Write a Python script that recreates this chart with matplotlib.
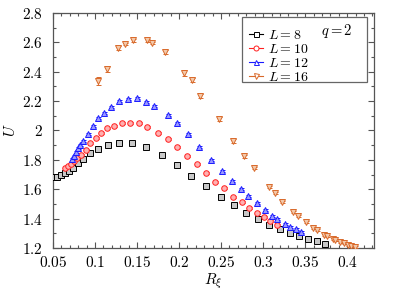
import matplotlib
matplotlib.use("Agg")
import matplotlib.pyplot as plt
from matplotlib.ticker import MultipleLocator, FuncFormatter
from matplotlib.lines import Line2D
from matplotlib.patches import Rectangle
import numpy as np

plt.rcParams['mathtext.fontset'] = 'cm'
plt.rcParams['font.family'] = 'serif'
plt.rcParams['font.serif'] = ['DejaVu Serif']

# L = 8
x8 = [0.0512, 0.0548, 0.0595, 0.0643, 0.069, 0.0738, 0.0797, 0.0856, 0.094, 0.1035,
      0.1153, 0.1284, 0.1439, 0.1605, 0.1795, 0.1973, 0.214, 0.2318, 0.2496, 0.265,
      0.2793, 0.2935, 0.3066, 0.3197, 0.3316, 0.3422, 0.353, 0.3636, 0.3731]
y8 = [1.683, 1.683, 1.697, 1.710, 1.724, 1.745, 1.779, 1.806, 1.847, 1.874,
      1.901, 1.915, 1.915, 1.888, 1.833, 1.765, 1.690, 1.622, 1.547, 1.493,
      1.438, 1.397, 1.356, 1.329, 1.302, 1.281, 1.261, 1.247, 1.227]
# L = 10
x10 = [0.0643, 0.0678, 0.0714, 0.075, 0.0785, 0.0833, 0.0892, 0.094, 0.1011, 0.107,
       0.1141, 0.1225, 0.132, 0.1415, 0.1522, 0.1617, 0.1747, 0.1866, 0.1973, 0.2092,
       0.2211, 0.2318, 0.2425, 0.2531, 0.2638, 0.2745, 0.2828, 0.2923, 0.3007, 0.3078, 0.3161]
y10 = [1.744, 1.758, 1.771, 1.792, 1.812, 1.833, 1.867, 1.915, 1.949, 1.983,
       2.017, 2.031, 2.051, 2.051, 2.051, 2.024, 1.983, 1.942, 1.888, 1.826,
       1.772, 1.711, 1.649, 1.608, 1.547, 1.513, 1.472, 1.438, 1.411, 1.384, 1.356]
# L = 12
x12 = [0.0726, 0.0749, 0.0773, 0.0797, 0.0821, 0.0856, 0.0916, 0.0975, 0.1035, 0.1106,
       0.1189, 0.1284, 0.1391, 0.1498, 0.1605, 0.17, 0.1866, 0.1973, 0.2104, 0.2235,
       0.2377, 0.2508, 0.2627, 0.2733, 0.2816, 0.2923, 0.3019, 0.31, 0.3161, 0.3256,
       0.3316, 0.3387, 0.3446]
y12 = [1.806, 1.826, 1.853, 1.881, 1.901, 1.928, 1.976, 2.031, 2.085, 2.119,
       2.160, 2.201, 2.214, 2.221, 2.194, 2.167, 2.105, 2.051, 1.976, 1.888,
       1.799, 1.724, 1.656, 1.601, 1.554, 1.506, 1.458, 1.418, 1.397, 1.363,
       1.343, 1.329, 1.309]
# L = 16
x16 = [0.1035, 0.114, 0.127, 0.1355, 0.145, 0.1617, 0.1676, 0.183, 0.2056, 0.215,
       0.2246, 0.247, 0.264, 0.277, 0.289, 0.3066, 0.3137, 0.323, 0.335, 0.342,
       0.3506, 0.359, 0.3636, 0.373, 0.3755, 0.3826, 0.386, 0.391, 0.3957, 0.4005,
       0.405, 0.4088]
y16 = [2.337, 2.419, 2.562, 2.589, 2.616, 2.616, 2.596, 2.534, 2.391, 2.344,
       2.235, 2.078, 1.928, 1.826, 1.745, 1.615, 1.574, 1.513, 1.445, 1.418,
       1.377, 1.336, 1.322, 1.288, 1.281, 1.261, 1.254, 1.240, 1.234, 1.220,
       1.213, 1.207]
e16 = [0.025, 0.02, 0.012, 0.01, 0.01, 0.01, 0.01, 0.012, 0.018, 0.015,
       0.012, 0.015, 0.012, 0.01, 0.008, 0.008, 0.008, 0.006, 0.006, 0.006,
       0.005, 0.005, 0.005, 0.004, 0.004, 0.004, 0.004, 0.004, 0.004, 0.004,
       0.004, 0.004]

series = [
    (x8, y8, None, 's', '#000000', '#c8c8c8', '$L = 8$'),
    (x10, y10, None, 'o', '#ff2020', '#ffb0b0', '$L = 10$'),
    (x12, y12, None, '^', '#1a1aff', '#9a9aff', '$L = 12$'),
    (x16, y16, e16, 'v', '#d9692a', '#f3c9aa', '$L = 16$'),
]

fig = plt.figure(figsize=(3.95, 2.9), dpi=100)
ax = fig.add_axes([0.134, 0.145, 0.813, 0.81])

handles = []
for x, y, e, m, c, fc, lab in series:
    err = e if e is not None else [0.005] * len(x)
    ax.errorbar(x, y, yerr=err, fmt=m, ms=4.0, mfc=fc, mec=c, mew=0.7,
                ecolor=c, elinewidth=0.7, capsize=1.8, capthick=0.7, zorder=3)
    handles.append(Line2D([0], [0], color=c, marker=m, ms=3.6, mfc='white',
                          mec=c, mew=0.7, lw=0.8))

ax.set_xlim(0.05, 0.432)
ax.set_ylim(1.2, 2.8)

ax.xaxis.set_major_locator(MultipleLocator(0.05))
ax.xaxis.set_minor_locator(MultipleLocator(0.01))
ax.yaxis.set_major_locator(MultipleLocator(0.2))
ax.yaxis.set_minor_locator(MultipleLocator(0.1))

def fmt(v, pos):
    s = f"{v:.2f}".rstrip('0').rstrip('.')
    return f"${s}$"
ax.xaxis.set_major_formatter(FuncFormatter(fmt))
ax.yaxis.set_major_formatter(FuncFormatter(fmt))

ax.tick_params(which='both', direction='in', top=True, right=True,
               color='#555555', labelsize=11, width=0.8)
ax.tick_params(which='major', length=4)
ax.tick_params(axis='x', which='major', pad=5)
ax.tick_params(axis='y', which='major', pad=7)
ax.tick_params(which='minor', length=2)
for s in ax.spines.values():
    s.set_color('#555555')
    s.set_linewidth(0.9)

ax.set_xlabel(r'$R_\xi$', fontsize=11, labelpad=1)
ax.set_ylabel(r'$U$', fontsize=11, labelpad=3)

# legend frame
rect = Rectangle((0.589, 0.706), 0.389, 0.277, transform=ax.transAxes,
                 fill=True, facecolor='white', edgecolor='#666666', lw=0.9, zorder=4)
ax.add_patch(rect)
leg = ax.legend(handles, [s[6] for s in series], loc='upper left',
                bbox_to_anchor=(0.575, 0.985), frameon=False, fontsize=10,
                handlelength=1.0, handletextpad=0.4, labelspacing=0.0,
                borderpad=0.3)
leg.set_zorder(5)
ax.text(0.885, 0.923, '$q = 2$', transform=ax.transAxes, fontsize=10.5,
        ha='center', va='center', zorder=6)

fig.savefig('out.png', dpi=100)
